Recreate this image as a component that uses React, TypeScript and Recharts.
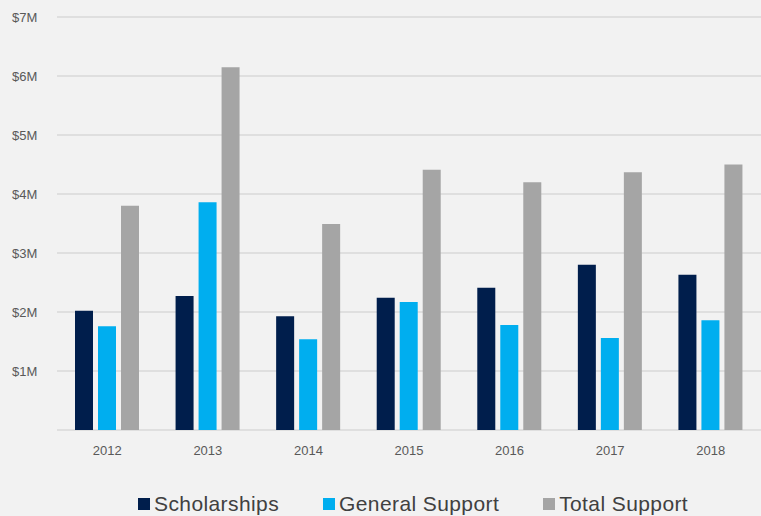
import React from 'react';
import { BarChart, Bar, XAxis, YAxis, CartesianGrid } from 'recharts';

const years = ['2012', '2013', '2014', '2015', '2016', '2017', '2018'];
const scholarships = [2.02, 2.27, 1.93, 2.24, 2.41, 2.8, 2.63];
const generalSupport = [1.76, 3.86, 1.54, 2.17, 1.78, 1.56, 1.86];
const totalSupport = [3.8, 6.15, 3.49, 4.41, 4.2, 4.37, 4.5];
const yTicks = [0, 1, 2, 3, 4, 5, 6, 7];

const series = [
  { key: 'scholarships', name: 'Scholarships', color: '#001e4c' },
  { key: 'general', name: 'General Support', color: '#00aeef' },
  { key: 'total', name: 'Total Support', color: '#a5a5a5' },
];

const data = years.map((year, i) => ({
  year,
  scholarships: scholarships[i],
  general: generalSupport[i],
  total: totalSupport[i],
}));

const font = '"Liberation Sans", Arial, sans-serif';

function YTick({ y, payload }: any) {
  if (payload.value === 0) return null;
  return (
    <text x={12} y={y} dy={4.5} textAnchor="start" fontSize={13} fill="#595959" fontFamily={font}>
      {`$${payload.value}M`}
    </text>
  );
}

// legend sits under the x labels, drawn as a plain row
function ChartLegend() {
  return (
    <div
      style={{
        position: 'absolute',
        left: 138,
        top: 492,
        display: 'flex',
        gap: 44,
        fontFamily: font,
        fontSize: 21,
        letterSpacing: 0.4,
        lineHeight: '24px',
        color: '#404040',
      }}
    >
      {series.map((s) => (
        <div key={s.key} style={{ display: 'flex', alignItems: 'center' }}>
          <span style={{ width: 12, height: 12, background: s.color, display: 'inline-block', marginRight: 4 }} />
          <span>{s.name}</span>
        </div>
      ))}
    </div>
  );
}

export default function App() {
  return (
    <div style={{ position: 'absolute', left: 0, top: 0, width: 761, height: 516, background: '#f2f2f2' }}>
      <BarChart
        width={761}
        height={516}
        data={data}
        margin={{ top: 17, right: 0, left: 0, bottom: 56 }}
        barSize={18}
        barGap={5}
      >
        <CartesianGrid vertical={false} stroke="#d9d9d9" strokeWidth={1.5} />
        <XAxis
          dataKey="year"
          axisLine={false}
          tickLine={false}
          height={30}
          tickMargin={10}
          tick={{ fontSize: 13, fill: '#595959', fontFamily: font }}
        />
        <YAxis
          width={57}
          domain={[0, 7]}
          ticks={yTicks}
          axisLine={false}
          tickLine={false}
          tick={<YTick />}
        />
        {series.map((s) => (
          <Bar key={s.key} dataKey={s.key} name={s.name} fill={s.color} isAnimationActive={false} />
        ))}
      </BarChart>
      <ChartLegend />
    </div>
  );
}
